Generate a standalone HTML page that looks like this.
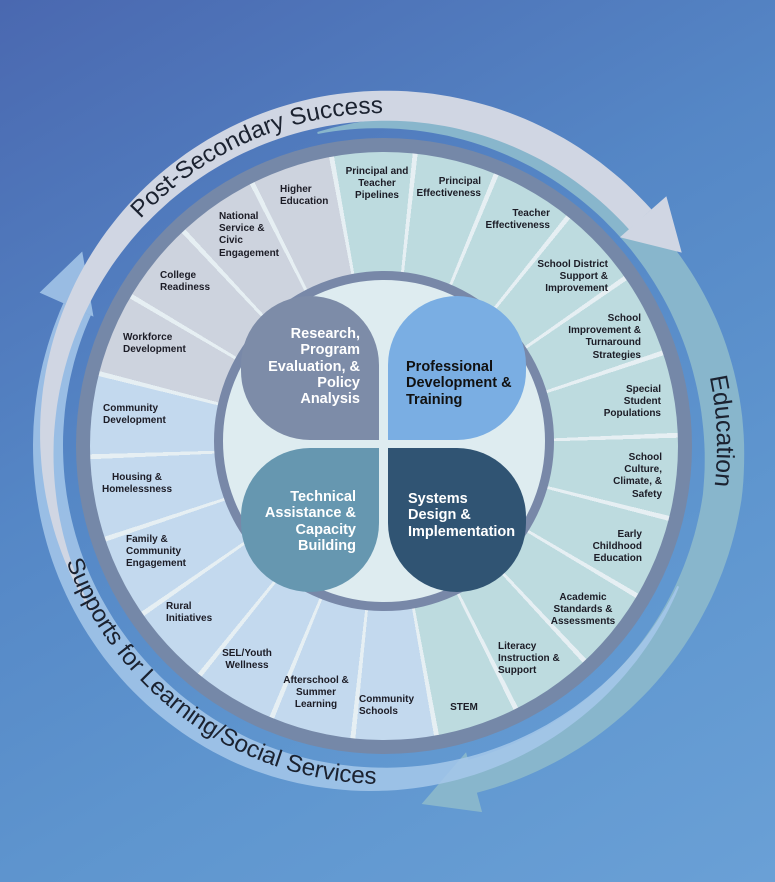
<!DOCTYPE html>
<html><head><meta charset="utf-8">
<style>
html,body{margin:0;padding:0;}
body{width:775px;height:882px;overflow:hidden;position:relative;
background:linear-gradient(150deg,#4a68b0 0%,#5587c6 40%,#5f96cf 70%,#6aa0d6 100%);
font-family:"Liberation Sans",sans-serif;}
#ring{position:absolute;left:76px;top:138px;width:616px;height:616px;border-radius:50%;background:#7588a8;}
#wedges{position:absolute;left:90px;top:152px;width:588px;height:588px;border-radius:50%;
background:
repeating-conic-gradient(from -9.8deg, rgba(0,0,0,0) 0deg 15.4deg, #e6eff3 15.4deg 16.3636deg),
conic-gradient(from -9.8deg, #bddbdf 0deg 180deg, #c3d9ee 180deg 294.55deg, #cdd3de 294.55deg 360deg);}
#inner{position:absolute;left:214px;top:271px;width:322px;height:322px;border-radius:50%;border:9px solid #7888a8;background:#deecf0;}
.p{position:absolute;width:138px;height:144px;}
.pt{position:absolute;font-weight:bold;font-size:14.5px;line-height:16.3px;}
.l{position:absolute;font-weight:bold;font-size:10px;line-height:12.2px;color:#1c1c26;white-space:nowrap;width:120px;}
.c{text-align:center}.r{text-align:right}
svg{position:absolute;left:0;top:0;}
</style></head><body>
<svg id="arr" width="775" height="882"></svg>
<div id="ring"></div>
<div id="wedges"></div>
<div id="inner"></div>
<div class="p" style="left:241px;top:296px;background:#7d8ca8;border-radius:70px 70px 0 70px;"></div>
<div class="p" style="left:388px;top:296px;background:#7aaee3;border-radius:70px 70px 70px 0;"></div>
<div class="p" style="left:241px;top:448px;background:#6697b0;border-radius:70px 0 70px 70px;"></div>
<div class="p" style="left:388px;top:448px;background:#305473;border-radius:0 70px 70px 70px;"></div>
<div class="pt" style="left:240px;width:120px;top:326px;text-align:right;color:#fff;">Research,<br>Program<br>Evaluation, &amp;<br>Policy<br>Analysis</div>
<div class="pt" style="left:406px;top:359px;color:#111;">Professional<br>Development &amp;<br>Training</div>
<div class="pt" style="left:236px;width:120px;top:489px;text-align:right;color:#fff;">Technical<br>Assistance &amp;<br>Capacity<br>Building</div>
<div class="pt" style="left:408px;top:491px;color:#fff;">Systems<br>Design &amp;<br>Implementation</div>

<div class="l c" style="left:317px;top:166px;">Principal and<br>Teacher<br>Pipelines</div>
<div class="l r" style="left:361px;top:176px;">Principal<br>Effectiveness</div>
<div class="l r" style="left:430px;top:208px;">Teacher<br>Effectiveness</div>
<div class="l r" style="left:488px;top:259px;">School District<br>Support &amp;<br>Improvement</div>
<div class="l r" style="left:521px;top:313px;">School<br>Improvement &amp;<br>Turnaround<br>Strategies</div>
<div class="l r" style="left:541px;top:384px;">Special<br>Student<br>Populations</div>
<div class="l r" style="left:542px;top:452px;">School<br>Culture,<br>Climate, &amp;<br>Safety</div>
<div class="l r" style="left:522px;top:529px;">Early<br>Childhood<br>Education</div>
<div class="l c" style="left:523px;top:592px;">Academic<br>Standards &amp;<br>Assessments</div>
<div class="l" style="left:498px;top:641px;">Literacy<br>Instruction &amp;<br>Support</div>
<div class="l c" style="left:404px;top:702px;">STEM</div>
<div class="l" style="left:359px;top:694px;">Community<br>Schools</div>
<div class="l c" style="left:256px;top:675px;">Afterschool &amp;<br>Summer<br>Learning</div>
<div class="l c" style="left:187px;top:648px;">SEL/Youth<br>Wellness</div>
<div class="l" style="left:166px;top:601px;">Rural<br>Initiatives</div>
<div class="l" style="left:126px;top:534px;">Family &amp;<br>Community<br>Engagement</div>
<div class="l c" style="left:77px;top:472px;">Housing &amp;<br>Homelessness</div>
<div class="l" style="left:103px;top:403px;">Community<br>Development</div>
<div class="l" style="left:123px;top:332px;">Workforce<br>Development</div>
<div class="l" style="left:160px;top:270px;">College<br>Readiness</div>
<div class="l" style="left:219px;top:211px;">National<br>Service &amp;<br>Civic<br>Engagement</div>
<div class="l" style="left:280px;top:184px;">Higher<br>Education</div>

<svg width="775" height="882" style="pointer-events:none">
<defs>
<path id="tp1" d="M140.5 218.9 A333 333 0 0 1 401.4 113.5"/>
<path id="tp2" d="M709.7 376.8 A333 333 0 0 1 709.7 515.2"/>
<path id="tp3" d="M66.4 561.6 A338 338 0 0 0 395.8 783.8"/>
</defs>
<text font-family="Liberation Sans, sans-serif" font-size="24" fill="#1b2230"><textPath href="#tp1" textLength="272" lengthAdjust="spacingAndGlyphs">Post-Secondary Success</textPath></text>
<text font-family="Liberation Sans, sans-serif" font-size="25" fill="#1b2230"><textPath href="#tp2" textLength="110" lengthAdjust="spacingAndGlyphs">Education</textPath></text>
<text font-family="Liberation Sans, sans-serif" font-size="24" fill="#1b2230"><textPath href="#tp3" textLength="405" lengthAdjust="spacingAndGlyphs">Supports for Learning/Social Services</textPath></text>
</svg>

<script>
(function(){
var cx=384,cy=446,svg=document.getElementById('arr');
function P(a,r){var t=a*Math.PI/180;return [cx+r*Math.sin(t),cy-r*Math.cos(t)];}
function band(a0,a1,rcF,wF,head,color,op){
  var out=[],inn=[],n=120;
  for(var i=0;i<=n;i++){var f=i/n,a=a0+(a1-a0)*f,rc=rcF(f),w=wF(f);
    out.push(P(a,rc+w/2));inn.push(P(a,rc-w/2));}
  var pts=out.concat(inn.reverse());
  var d='M'+pts.map(function(p){return p[0].toFixed(1)+' '+p[1].toFixed(1);}).join(' L')+'Z';
  var h=head;var b1=P(h.a,h.r0),b2=P(h.a,h.r1),tp=P(h.ta,h.tr);
  d+=' M'+b1.join(' ')+' L'+tp.join(' ')+' L'+b2.join(' ')+'Z';
  var e=document.createElementNS('http://www.w3.org/2000/svg','path');
  e.setAttribute('d',d);e.setAttribute('fill',color);e.setAttribute('fill-opacity',op);
  svg.appendChild(e);
}
// Education (teal)
band(-12,165,function(f){return 320+22*Math.min(1,f*1.6);},
  function(f){return f<0.55?2+38*Math.sin(f/0.55*Math.PI/2):40-6*(f-0.55)/0.45;},
  {a:165,r0:317,r1:379,ta:174,tr:360},'#88b6cc',1);
// Supports (light blue)
band(115.5,294,function(f){return 326+10*Math.min(1,f*2);},
  function(f){return 2+28*Math.sin(Math.min(1,f*1.5)*Math.PI/2);},
  {a:294,r0:318,r1:377,ta:302.8,tr:359},'#a6c8ea',0.85);
// Post-secondary (gray)
band(-119.5,48.5,function(f){return 336+6*f;},
  function(f){return 2+28*Math.sin(Math.min(1,f*1.5)*Math.PI/2);},
  {a:48.5,r0:315,r1:377,ta:57,tr:355},'#d0d6e3',1);
})();
</script>
</body></html>
